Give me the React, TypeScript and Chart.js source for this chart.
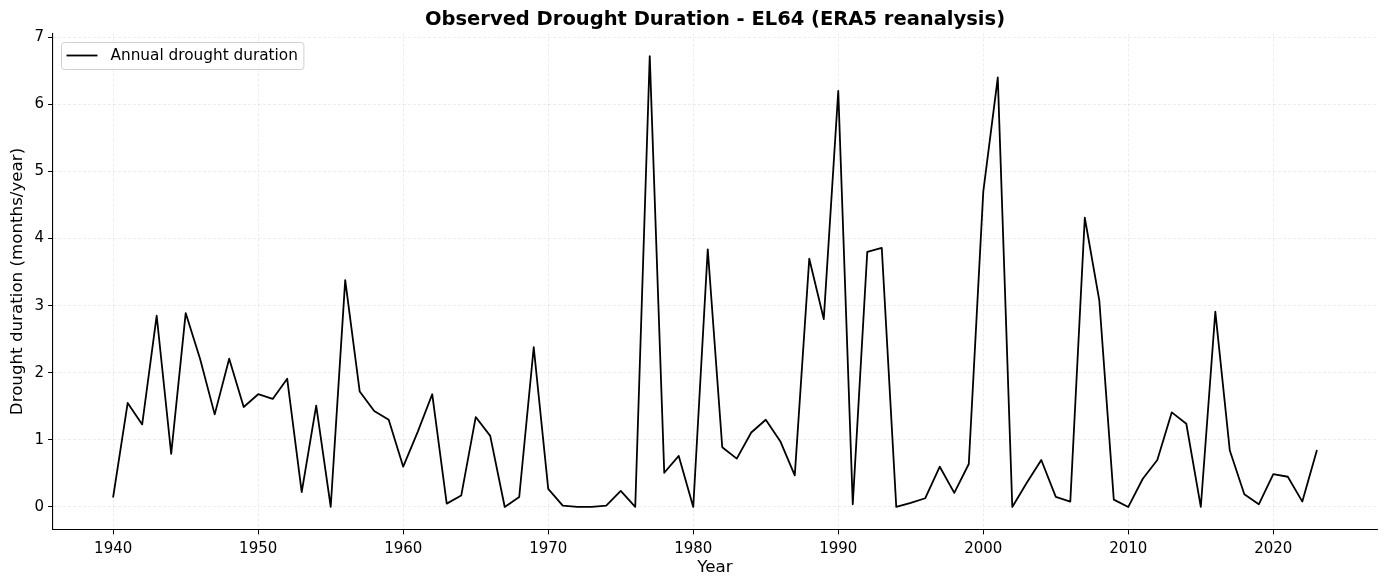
import { useEffect, useRef } from "react";
import { Chart, registerables } from "chart.js";

Chart.register(...registerables);

const years = [
  1940, 1941, 1942, 1943, 1944, 1945, 1946, 1947, 1948, 1949,
  1950, 1951, 1952, 1953, 1954, 1955, 1956, 1957, 1958, 1959,
  1960, 1961, 1962, 1963, 1964, 1965, 1966, 1967, 1968, 1969,
  1970, 1971, 1972, 1973, 1974, 1975, 1976, 1977, 1978, 1979,
  1980, 1981, 1982, 1983, 1984, 1985, 1986, 1987, 1988, 1989,
  1990, 1991, 1992, 1993, 1994, 1995, 1996, 1997, 1998, 1999,
  2000, 2001, 2002, 2003, 2004, 2005, 2006, 2007, 2008, 2009,
  2010, 2011, 2012, 2013, 2014, 2015, 2016, 2017, 2018, 2019,
  2020, 2021, 2022, 2023,
];

const droughtDuration = [
  0.15, 1.55, 1.23, 2.85, 0.79, 2.89, 2.2, 1.38, 2.21, 1.49,
  1.68, 1.61, 1.91, 0.22, 1.51, 0.0, 3.38, 1.72, 1.43, 1.3,
  0.6, 1.12, 1.68, 0.05, 0.17, 1.34, 1.06, 0.0, 0.15, 2.38,
  0.27, 0.02, 0.0, 0.0, 0.02, 0.24, 0.0, 6.72, 0.51, 0.76,
  0.0, 3.84, 0.89, 0.72, 1.11, 1.3, 0.98, 0.47, 3.7, 2.8,
  6.2, 0.04, 3.8, 3.86, 0.0, 0.06, 0.13, 0.6, 0.21, 0.64,
  4.7, 6.4, 0.0, 0.36, 0.7, 0.15, 0.08, 4.31, 3.08, 0.11,
  0.0, 0.42, 0.7, 1.41, 1.24, 0.0, 2.91, 0.84, 0.19, 0.04,
  0.49, 0.45, 0.08, 0.84,
];

const xTicks = [1940, 1950, 1960, 1970, 1980, 1990, 2000, 2010, 2020];
const yTicks = [0, 1, 2, 3, 4, 5, 6, 7];

const chartTitle = "Observed Drought Duration - EL64 (ERA5 reanalysis)";
const seriesLabel = "Annual drought duration";
const xLabel = "Year";
const yLabel = "Drought duration (months/year)";

const FONT = "'DejaVu Sans', sans-serif";

const insideLegend = {
  id: "insideLegend",
  afterDraw(chart: any) {
    const ctx = chart.ctx as CanvasRenderingContext2D;
    const { left, top } = chart.chartArea;
    ctx.save();
    ctx.font = `15.3px ${FONT}`;
    const tw = ctx.measureText(seriesLabel).width;
    const x = Math.round(left + 8) + 0.5;
    const y = Math.round(top + 8) + 0.5;
    const w = 49 + tw + 6;
    const h = 27;
    ctx.beginPath();
    ctx.roundRect(x, y, w, h, 3);
    ctx.fillStyle = "rgba(255,255,255,0.8)";
    ctx.fill();
    ctx.strokeStyle = "#d0d0d0";
    ctx.lineWidth = 1;
    ctx.stroke();
    ctx.beginPath();
    ctx.moveTo(x + 5, y + 13);
    ctx.lineTo(x + 36, y + 13);
    ctx.strokeStyle = "#000";
    ctx.lineWidth = 1.8;
    ctx.stroke();
    ctx.fillStyle = "#000";
    ctx.textBaseline = "middle";
    ctx.textAlign = "left";
    ctx.fillText(seriesLabel, x + 49, y + 13.5);
    ctx.restore();
  },
};

export default function App() {
  const ref = useRef<HTMLCanvasElement | null>(null);

  useEffect(() => {
    document.body.style.margin = "0";
    const canvas = ref.current;
    if (!canvas) return;
    const points = years.map((yr, i) => ({ x: yr, y: droughtDuration[i] }));
    const chart = new Chart(canvas, {
      type: "line",
      data: {
        datasets: [
          {
            label: seriesLabel,
            data: points,
            borderColor: "#000000",
            backgroundColor: "#000000",
            borderWidth: 1.8,
            borderJoinStyle: "round",
            borderCapStyle: "round",
            pointRadius: 0,
            tension: 0,
            fill: false,
          },
        ],
      },
      options: {
        responsive: false,
        animation: false,
        layout: { padding: { left: 0, right: 10, top: 0, bottom: 0 } },
        plugins: {
          legend: { display: false },
          tooltip: { enabled: false },
          title: {
            display: true,
            fullSize: false,
            text: chartTitle,
            color: "#000",
            font: { family: FONT, size: 19.5, weight: "bold", lineHeight: 1.2 },
            padding: { top: 8.5, bottom: 1.6 },
          },
        },
        scales: {
          x: {
            type: "linear",
            min: 1935.85,
            max: 2027.15,
            afterBuildTicks: (scale: any) => {
              scale.ticks = xTicks.map((v) => ({ value: v }));
            },
            afterFit: (scale: any) => {
              scale.height = 57.5;
            },
            ticks: {
              color: "#000",
              font: { family: FONT, size: 15 },
              padding: 5.5,
              maxRotation: 0,
              autoSkip: false,
              callback: (v: any) => String(v),
            },
            grid: {
              color: "rgba(0,0,0,0.09)",
              lineWidth: 0.8,
              tickColor: "#000",
              tickLength: 4.9,
              tickWidth: 1,
            },
            border: { display: true, color: "#000", width: 1.1, dash: [3, 2] },
            title: {
              display: true,
              text: xLabel,
              color: "#000",
              font: { family: FONT, size: 16.7, lineHeight: 1.2 },
              padding: { top: 0, bottom: 9.5 },
            },
          },
          y: {
            type: "linear",
            min: -0.336,
            max: 7.056,
            afterBuildTicks: (scale: any) => {
              scale.ticks = yTicks.map((v) => ({ value: v }));
            },
            afterFit: (scale: any) => {
              scale.width = 53;
            },
            ticks: {
              color: "#000",
              font: { family: FONT, size: 15 },
              padding: 4,
              autoSkip: false,
              callback: (v: any) => String(v),
            },
            grid: {
              color: "rgba(0,0,0,0.09)",
              lineWidth: 0.8,
              tickColor: "#000",
              tickLength: 4.9,
              tickWidth: 1,
            },
            border: { display: true, color: "#000", width: 1.1, dash: [3, 2] },
            title: {
              display: true,
              text: yLabel,
              color: "#000",
              font: { family: FONT, size: 16.7, lineHeight: 1.2 },
              padding: { top: 8, bottom: 0 },
            },
          },
        },
      },
      plugins: [insideLegend],
    });
    return () => chart.destroy();
  }, []);

  return (
    <div style={{ width: 1387, height: 587 }}>
      <canvas ref={ref} width={1387} height={587} style={{ display: "block" }} />
    </div>
  );
}
